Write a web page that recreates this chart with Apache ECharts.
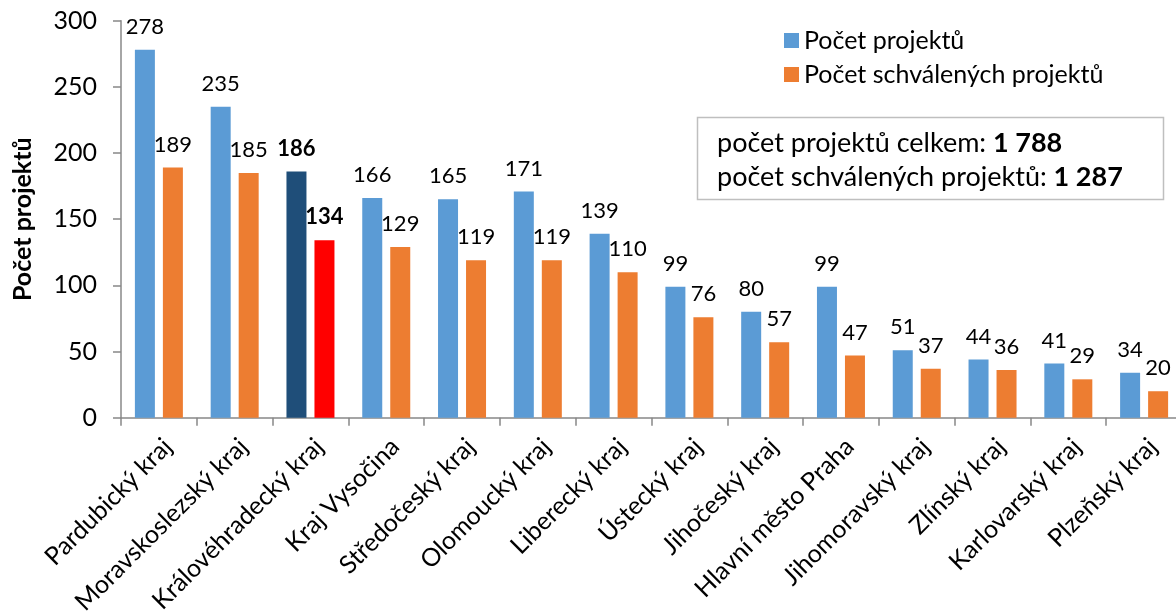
<!DOCTYPE html>
<html><head><meta charset="utf-8">
<script src="https://cdn.jsdelivr.net/npm/echarts@6/dist/echarts.min.js"></script>
<style>html,body{margin:0;padding:0;background:#fff}#c{width:1176px;height:611px}</style>
</head><body><div id="c"></div>
<script>
const categories = ['Pardubický kraj','Moravskoslezský kraj','Královéhradecký kraj','Kraj Vysočina','Středočeský kraj','Olomoucký kraj','Liberecký kraj','Ústecký kraj','Jihočeský kraj','Hlavní město Praha','Jihomoravský kraj','Zlínský kraj','Karlovarský kraj','Plzeňský kraj'];
const projects = [278,235,186,166,165,171,139,99,80,99,51,44,41,34];
const approved = [189,185,134,129,119,119,110,76,57,47,37,36,29,20];
const highlightIndex = 2;
const totalProjects = '1 788';
const totalApproved = '1 287';
const yTicks = [0,50,100,150,200,250,300];

const FONT = 'Lato';
const chart = echarts.init(document.getElementById('c'));
function mk(arr, hiColor){
  return arr.map((v,i)=> i===highlightIndex ? {value:v,itemStyle:{color:hiColor},label:{fontWeight:'bold'}} : v);
}
chart.setOption({
  animation:false,
  textStyle:{fontFamily:FONT},
  grid:{left:121, top:20.7, width:1061, height:397, containLabel:false, outerBoundsMode:'none'},
  legend:{
    orient:'vertical', left:779, top:23, itemWidth:15, itemHeight:15, itemGap:9,
    icon:'rect', textStyle:{fontFamily:FONT,fontSize:25,color:'#000'},
    data:['Počet projektů','Počet schválených projektů']
  },
  xAxis:{
    type:'category', data:categories,
    axisLine:{lineStyle:{color:'#888',width:1.5}},
    axisTick:{show:true,length:8,lineStyle:{color:'#888',width:1.5}},
    axisLabel:{rotate:45,fontSize:25,color:'#000',margin:16,interval:0,fontFamily:FONT,verticalAlign:'top'}
  },
  yAxis:{
    type:'value', min:yTicks[0], max:yTicks[yTicks.length-1], interval:50,
    name:'Počet projektů', nameLocation:'middle', nameGap:86, nameRotate:90,
    nameTextStyle:{fontSize:25,fontWeight:'bold',color:'#000',fontFamily:FONT},
    axisLine:{show:true,lineStyle:{color:'#888',width:1.5}},
    axisTick:{show:true,length:8,lineStyle:{color:'#888',width:1.5}},
    splitLine:{show:false},
    axisLabel:{fontSize:25,color:'#000',margin:24,fontFamily:FONT}
  },
  series:[
    {name:'Počet projektů',type:'bar',data:mk(projects,'#1F4E79'),barWidth:20,barGap:'40%',
     itemStyle:{color:'#5B9BD5'},
     label:{show:true,position:'top',distance:12,fontSize:22,color:'#000',fontFamily:FONT}},
    {name:'Počet schválených projektů',type:'bar',data:mk(approved,'#FF0000'),barWidth:20,
     itemStyle:{color:'#ED7D31'},
     label:{show:true,position:'top',distance:12,fontSize:22,color:'#000',fontFamily:FONT}}
  ],
  graphic:[
    {type:'rect',shape:{x:697.5,y:117.5,width:466,height:82},style:{fill:'#fff',stroke:'#bfbfbf',lineWidth:1.5}},
    {type:'text',x:717,y:143,style:{text:'{n|počet projektů celkem: }{b|'+totalProjects+'}',verticalAlign:'middle',
      rich:{n:{fontSize:27,fontFamily:FONT,fill:'#000'},b:{fontSize:27,fontFamily:FONT,fontWeight:'bold',fill:'#000'}}}},
    {type:'text',x:717,y:177,style:{text:'{n|počet schválených projektů: }{b|'+totalApproved+'}',verticalAlign:'middle',
      rich:{n:{fontSize:27,fontFamily:FONT,fill:'#000'},b:{fontSize:27,fontFamily:FONT,fontWeight:'bold',fill:'#000'}}}}
  ]
});
</script></body></html>
